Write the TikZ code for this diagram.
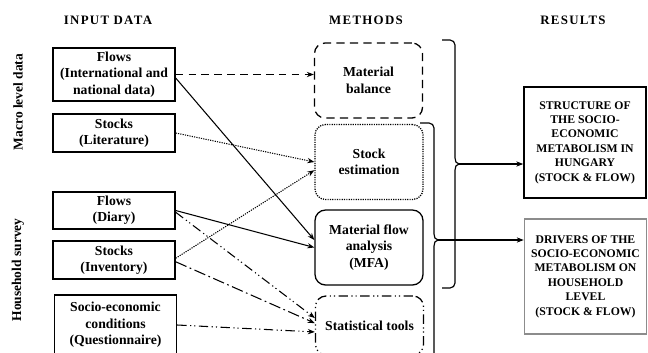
\documentclass[tikz,border=0pt]{standalone}
\usepackage{fontspec}
\setmainfont{Liberation Serif}
\usetikzlibrary{arrows.meta}

\begin{document}
\begin{tikzpicture}[
  x=0.3mm, y=-0.3mm,
  hdr/.style={font=\bfseries\fontsize{11}{12}\selectfont\addfontfeature{LetterSpace=10}},
  side/.style={rotate=90, font=\bfseries\fontsize{11.5}{13}\selectfont},
  inbox/.style={draw, line width=1.2pt, minimum width=36.6mm, inner sep=0pt,
                align=center, font=\bfseries\fontsize{11.7}{14}\selectfont},
  mbox/.style={draw, line width=1.1pt, rounded corners=9pt, minimum width=32.4mm,
               minimum height=22.5mm, inner sep=0pt, align=center,
               font=\bfseries\fontsize{11.7}{14}\selectfont},
  resbox/.style={draw, line width=1.3pt, minimum width=36.6mm, inner sep=0pt,
                 align=center, font=\bfseries\fontsize{10}{12.3}\selectfont},
  link/.style={line width=0.9pt, -{Stealth[length=6pt, width=4.5pt]}},
  brc/.style={line width=1pt},
  dashdotdot/.style={dash pattern=on 8pt off 3pt on 1pt off 2.5pt on 1pt off 3pt},
]
  \useasboundingbox (0,0) rectangle (648,352);

  % headers
  \node[hdr] (hin) at (108,20) {INPUT DATA};
  \node[hdr] (hme) at (366,20) {METHODS};
  \node[hdr] (hre) at (573,20) {RESULTS};
  \node[side] (smac) at (18,102) {Macro level data};
  \node[side] (shh) at (18,270) {Household survey};

  % input data
  \node[inbox, minimum height=15.9mm] (fint) at (114,74.5) {Flows\\(International and\\national data)};
  \node[inbox, minimum height=11.4mm] (slit) at (114,133) {Stocks\\(Literature)};
  \node[inbox, minimum height=11.1mm] (fdia) at (114,210.5) {Flows\\(Diary)};
  \node[inbox, minimum height=11.4mm] (sinv) at (114,260) {Stocks\\(Inventory)};
  \node[inbox, minimum height=18mm] (socq) at (115.5,325) {Socio-economic\\conditions\\(Questionnaire)};

  % methods
  \node[mbox, dash pattern=on 7pt off 4.5pt] (mbal) at (368.5,80.5) {Material\\balance};
  \node[mbox, dash pattern=on 1pt off 1pt] (sest) at (369,162) {Stock\\estimation};
  \node[mbox] (mfa) at (369,247.5) {Material flow\\analysis\\(MFA)};
  \node[mbox, dashdotdot, minimum height=17.7mm] (stat) at (369.5,325.5) {Statistical tools};

  % results
  \node[resbox, minimum height=33.3mm] (res1) at (585,142.5)
    {STRUCTURE OF\\THE SOCIO-\\ECONOMIC\\METABOLISM IN\\HUNGARY\\(STOCK \& FLOW)};
  \node[resbox, draw=black!45, minimum height=34.5mm] (res2) at (585.5,276.5)
    {DRIVERS OF THE\\SOCIO-ECONOMIC\\METABOLISM ON\\HOUSEHOLD\\LEVEL\\(STOCK \& FLOW)};

  % links
  \draw[link, dash pattern=on 6.5pt off 4.5pt] (fint.east) -- (fint.east -| mbal.west);
  \draw[link] ([yshift=-3pt]fint.east) -- ([yshift=6.4pt]mfa.west);
  \draw[link, dash pattern=on 1pt off 1pt] (slit.east) -- (sest.west);
  \draw[link] (fdia.east) -- (mfa.west);
  \draw[link, dash pattern=on 1pt off 1pt] ([yshift=1.5pt]sinv.east) -- ([yshift=-7pt]sest.west);
  \draw[link, dashdotdot] ([yshift=-1.5pt]fdia.east) -- ([yshift=6.4pt]stat.west);
  \draw[link, dash pattern=on 10pt off 3pt on 1.5pt off 3pt] ([yshift=-1.5pt]sinv.east) -- ([yshift=2pt]stat.west);
  \draw[link, dashdotdot] (socq.east) -- ([yshift=-5.5pt]stat.west);

  % brackets
  \coordinate (bup) at (459,164);
  \coordinate (blo) at (438,240);
  \draw[brc] (442,40) -- (450,40) to[out=0,in=90] (455,45) -- (455,158)
    to[out=-90,in=180] (bup) to[out=180,in=90] (455,170) -- (455,283)
    to[out=-90,in=0] (450,288) -- (442,288);
  \draw[brc] (420,123) -- (429,123) to[out=0,in=90] (434,128) -- (434,234)
    to[out=-90,in=180] (blo) to[out=180,in=90] (434,246) -- (434,360);
  \draw[link] (bup) -- (bup -| res1.west);
  \draw[link] (blo) -- (blo -| res2.west);
\end{tikzpicture}
\end{document}
